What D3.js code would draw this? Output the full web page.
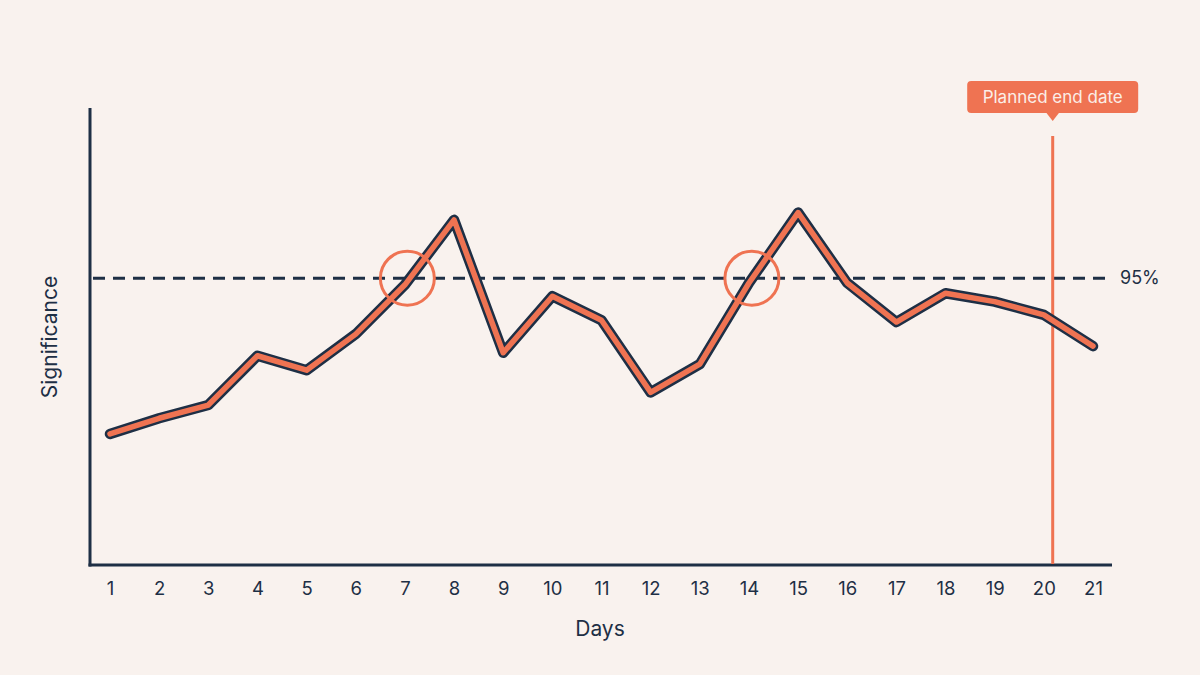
<!DOCTYPE html>
<html>
<head>
<meta charset="utf-8">
<script src="https://cdn.jsdelivr.net/npm/d3@7"></script>
<style>
  html, body { margin: 0; padding: 0; background: #f9f2ee; }
  svg { display: block; font-family: Inter, "Noto Sans", sans-serif; }
</style>
</head>
<body>
<script>
(() => {
    // data
    var days = [1, 2, 3, 4, 5, 6, 7, 8, 9, 10, 11, 12, 13, 14, 15, 16, 17, 18, 19, 20, 21];
    var significance = [69.1, 71.7, 73.9, 82.1, 79.7, 85.7, 93.9, 104.7, 82.6, 92.0, 88.0, 76.0, 80.7, 94.2, 105.9, 94.2, 87.7, 92.5, 91.1, 88.9, 83.7];
    var threshold = 95;
    var thresholdLabel = "95%";
    var crossings = [7.05, 14.06];
    var endDay = 20.18;
    var endLabel = "Planned end date";

    var W = 1200, H = 675;
    var navy = "#1e2f45", salmon = "#ef7352";

    var svg = d3.select("body").append("svg").attr("width", W).attr("height", H);

    var x = d3.scaleLinear().domain([1, 21]).range([110, 1093]);
    var y = d3.scaleLinear().domain([47.3, 123.3]).range([565, 108]);

    var dataset = days.map((d, i) => ({ day: d, value: significance[i] }));

    // axes
    svg.append("line").attr("x1", 90).attr("x2", 90).attr("y1", y.range()[1]).attr("y2", y.range()[0] + 1.5)
        .attr("stroke", navy).attr("stroke-width", 3);
    svg.append("line").attr("x1", 88.5).attr("x2", 1112).attr("y1", 565).attr("y2", 565)
        .attr("stroke", navy).attr("stroke-width", 3);

    var x_axis = d3.axisBottom(x).tickValues(days).tickSize(0).tickPadding(0).tickFormat(d3.format("d"));
    var xg = svg.append("g").attr("transform", "translate(0,582)").call(x_axis);
    xg.select(".domain").remove();
    xg.selectAll("text").attr("fill", navy).attr("font-size", 18.5).attr("dy", "0.71em")
        .attr("font-family", "Inter, 'Noto Sans', sans-serif");

    svg.append("text").attr("x", 600).attr("y", 636).attr("text-anchor", "middle")
        .attr("fill", navy).attr("font-size", 21).text("Days");
    svg.append("text").attr("transform", "translate(57,337)rotate(-90)").attr("text-anchor", "middle")
        .attr("fill", navy).attr("font-size", 21).text("Significance");

    // threshold
    svg.append("line").attr("x1", 93).attr("x2", 1112).attr("y1", y(threshold)).attr("y2", y(threshold))
        .attr("stroke", navy).attr("stroke-width", 3).attr("stroke-dasharray", "12 8");
    svg.append("text").attr("x", 1120).attr("y", y(threshold)).attr("dy", "0.35em")
        .attr("fill", navy).attr("font-size", 18).text(thresholdLabel);

    // planned end date
    svg.append("line").attr("x1", x(endDay)).attr("x2", x(endDay)).attr("y1", 136).attr("y2", 564)
        .attr("stroke", salmon).attr("stroke-width", 3);

    var line = d3.line().x(d => x(d.day)).y(d => y(d.value));
    svg.append("path").datum(dataset).attr("d", line).attr("fill", "none")
        .attr("stroke", navy).attr("stroke-width", 10.5).attr("stroke-linejoin", "round").attr("stroke-linecap", "round");
    svg.append("path").datum(dataset).attr("d", line).attr("fill", "none")
        .attr("stroke", salmon).attr("stroke-width", 5.5).attr("stroke-linejoin", "round").attr("stroke-linecap", "round");

    svg.selectAll(".cross").data(crossings).enter().append("circle").attr("class", "cross")
        .attr("cx", d => x(d)).attr("cy", y(threshold)).attr("r", 27)
        .attr("fill", "none").attr("stroke", salmon).attr("stroke-width", 3);

    // label box
    var bx = x(endDay);
    var tag = svg.append("g").attr("transform", "translate(" + [bx, 97] + ")");
    var tw = 171;
    tag.append("rect").attr("x", -tw / 2).attr("y", -16).attr("width", tw).attr("height", 32).attr("rx", 4)
        .attr("fill", salmon);
    tag.append("path").attr("d", "M-7,15 L0,24 L7,15 Z").attr("fill", salmon);
    tag.append("text").attr("text-anchor", "middle").attr("dy", "0.35em").attr("fill", "#fbeee8")
        .attr("font-size", 17).text(endLabel);
})()
</script>
</body>
</html>
